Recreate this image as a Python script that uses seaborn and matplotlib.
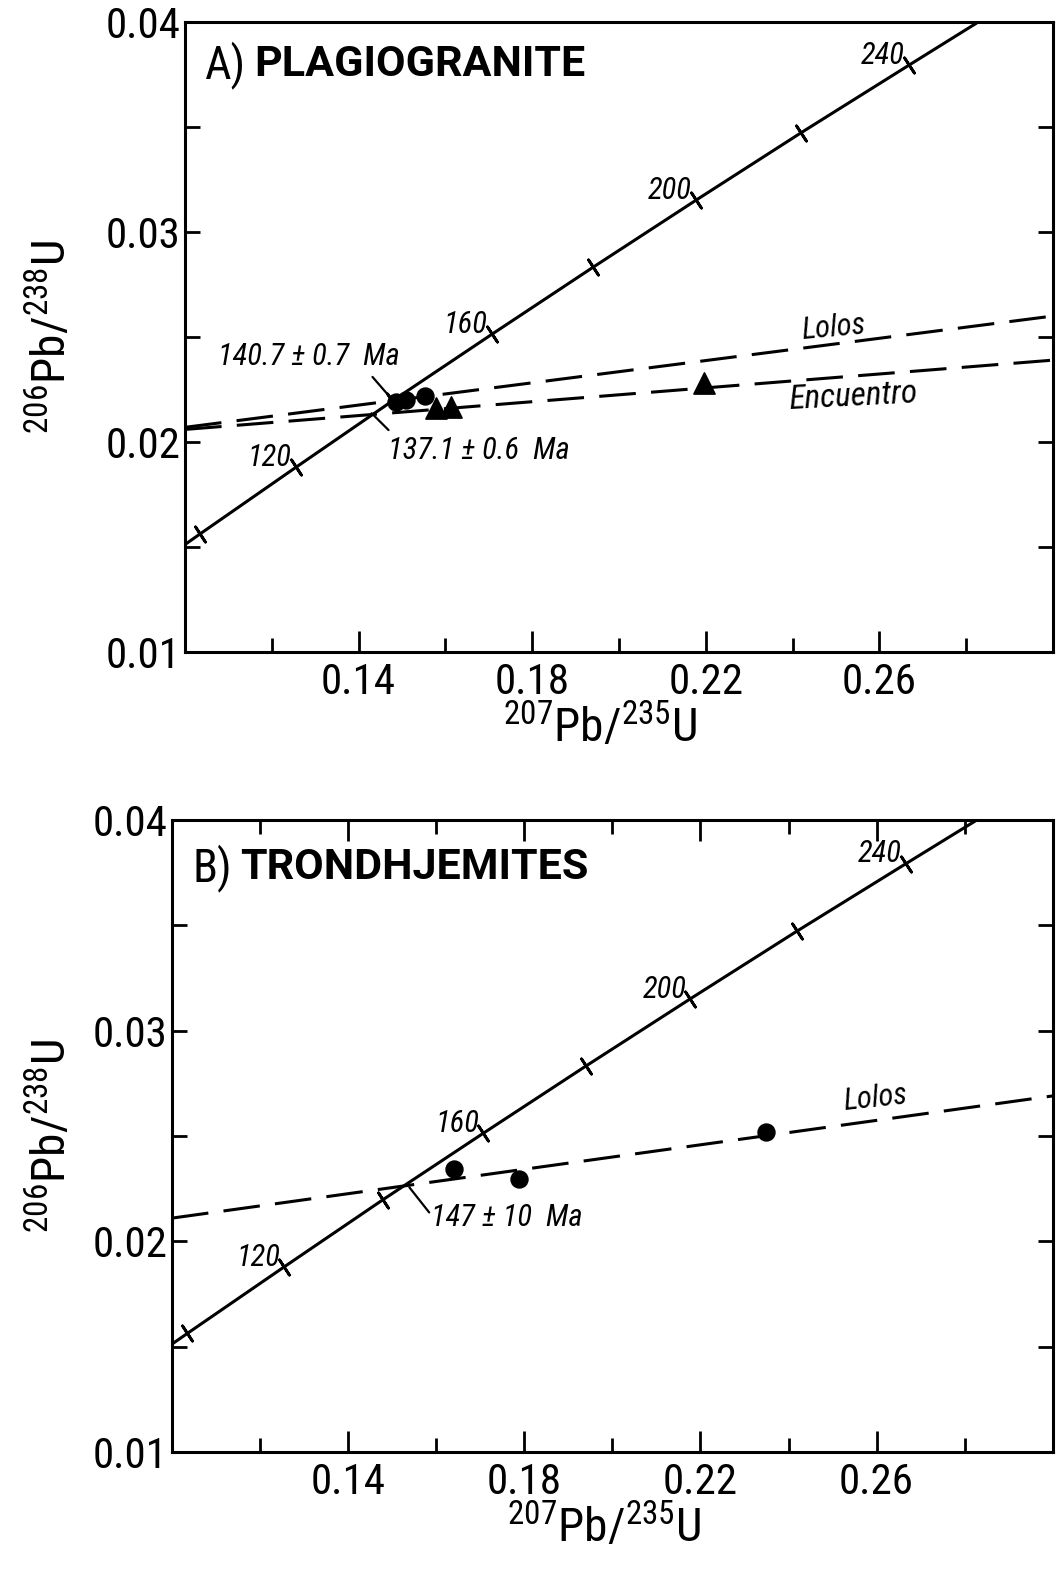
import matplotlib
matplotlib.use('Agg')
import matplotlib.pyplot as plt
import seaborn as sns

# Concordia points (age in Ma, 207Pb/235U, 206Pb/238U)
conc_age = [90, 100, 120, 140, 160, 180, 200, 220, 240, 260]
conc_x = [0.0927, 0.1035, 0.1255, 0.1478, 0.1707, 0.1940, 0.2177, 0.2419, 0.2667, 0.2918]
conc_y = [0.01406, 0.01563, 0.01879, 0.02196, 0.02513, 0.02832, 0.03151, 0.03472, 0.03793, 0.04116]
tick_ages = [100, 120, 140, 160, 180, 200, 220, 240]
label_ages = [120, 160, 200, 240]

# A) plagiogranite
lolos_a_x = [0.10, 0.30]
lolos_a_y = [0.0207, 0.0260]
enc_a_x = [0.10, 0.30]
enc_a_y = [0.0206, 0.0239]
lolos_pts_a_x = [0.1487, 0.1510, 0.1554]
lolos_pts_a_y = [0.02190, 0.02200, 0.02219]
enc_pts_a_x = [0.1579, 0.1614, 0.2195]
enc_pts_a_y = [0.02162, 0.02167, 0.02281]

# B) trondhjemites
lolos_b_x = [0.10, 0.30]
lolos_b_y = [0.0211, 0.0269]
lolos_pts_b_x = [0.1641, 0.1788, 0.2350]
lolos_pts_b_y = [0.02341, 0.02294, 0.02517]

xticks_major = [0.14, 0.18, 0.22, 0.26]
xtick_labels = ['0.14', '0.18', '0.22', '0.26']
xticks_minor = [0.12, 0.16, 0.20, 0.24, 0.28]
yticks_major = [0.01, 0.02, 0.03, 0.04]
ytick_labels = ['0.01', '0.02', '0.03', '0.04']
yticks_minor = [0.015, 0.025, 0.035]

sns.set_style('ticks', {'axes.edgecolor': 'black', 'xtick.color': 'black', 'ytick.color': 'black',
                        'text.color': 'black', 'axes.labelcolor': 'black'})
plt.rcParams['font.family'] = ['Roboto Condensed', 'DejaVu Sans']
plt.rcParams['mathtext.fontset'] = 'custom'
plt.rcParams['mathtext.rm'] = 'Roboto Condensed'
plt.rcParams['mathtext.default'] = 'rm'

LW = 2.2
DASH = (0, (12, 5))
ITAL = dict(style='italic', fontsize=22)


def draw_concordia(ax):
    sns.lineplot(x=conc_x, y=conc_y, ax=ax, color='black', linewidth=LW, sort=False, estimator=None)
    tx = [conc_x[conc_age.index(a)] for a in tick_ages]
    ty = [conc_y[conc_age.index(a)] for a in tick_ages]
    sns.scatterplot(x=tx, y=ty, ax=ax, marker=(2, 2, 33), s=170, color='black', linewidth=2, zorder=4)
    for a in label_ages:
        i = conc_age.index(a)
        ax.annotate(str(a), (conc_x[i], conc_y[i]), xytext=(-3, 7), textcoords='offset points',
                    ha='right', va='center', **ITAL)


def setup_axes(ax, top_ticks):
    ax.set_xlim(0.10, 0.30)
    ax.set_ylim(0.01, 0.04)
    ax.set_xticks(xticks_major)
    ax.set_xticklabels(xtick_labels)
    ax.set_xticks(xticks_minor, minor=True)
    ax.set_yticks(yticks_major)
    ax.set_yticklabels(ytick_labels)
    ax.set_yticks(yticks_minor, minor=True)
    ax.tick_params(which='both', direction='in', width=2, top=top_ticks, right=True, labelsize=31)
    ax.tick_params(axis='x', which='major', length=15, pad=7)
    ax.tick_params(axis='x', which='minor', length=10)
    ax.tick_params(axis='y', which='both', length=11, pad=3)
    for s in ax.spines.values():
        s.set_linewidth(2.2)
        s.set_visible(True)
    ax.set_xlabel(r'$^{207}$Pb/$^{235}$U', fontsize=34)
    ax.set_ylabel(r'$^{206}$Pb/$^{238}$U', fontsize=34)


def title(ax, letter, word, x, y):
    t = ax.text(x, y, letter, transform=ax.transAxes, fontsize=33, va='center', ha='left')
    ax.annotate(word, xy=(1, 0.5), xycoords=t, xytext=(6, 0), textcoords='offset points',
                fontsize=31, fontweight='bold', family='Roboto', va='center', ha='left')


fig = plt.figure(figsize=(10.56, 15.69), dpi=100)

# Panel A
ax1 = fig.add_axes([0.1752, 0.5844, 0.822, 0.4016])
draw_concordia(ax1)
sns.lineplot(x=lolos_a_x, y=lolos_a_y, ax=ax1, color='black', linewidth=LW, linestyle=DASH)
sns.lineplot(x=enc_a_x, y=enc_a_y, ax=ax1, color='black', linewidth=LW, linestyle=DASH)
sns.scatterplot(x=lolos_pts_a_x, y=lolos_pts_a_y, ax=ax1, marker='o', s=150, color='black',
                edgecolor='black', zorder=5)
sns.scatterplot(x=enc_pts_a_x, y=enc_pts_a_y, ax=ax1, marker='^', s=230, color='black',
                edgecolor='black', zorder=5)
ax1.plot([0.1432, 0.1476], [0.02310, 0.02205], color='black', linewidth=1.6)
ax1.plot([0.1430, 0.1469], [0.02137, 0.02057], color='black', linewidth=1.6)
ax1.text(0.1076, 0.02405, '140.7 ± 0.7  Ma', ha='left', va='center', **ITAL)
ax1.text(0.1467, 0.01962, '137.1 ± 0.6  Ma', ha='left', va='center', **ITAL)
ax1.text(0.2421, 0.02533, 'Lolos', ha='left', va='center', rotation=5, rotation_mode='anchor', **ITAL)
ax1.text(0.2391, 0.02200, 'Encuentro', ha='left', va='center', rotation=3, rotation_mode='anchor',
         style='italic', fontsize=24)
setup_axes(ax1, top_ticks=False)
ax1.xaxis.set_label_coords(0.478, -0.078)
ax1.yaxis.set_label_coords(-0.127, 0.5)
title(ax1, 'A)', 'PLAGIOGRANITE', 0.023, 0.932)

# Panel B
ax2 = fig.add_axes([0.1629, 0.0746, 0.834, 0.4028])
draw_concordia(ax2)
sns.lineplot(x=lolos_b_x, y=lolos_b_y, ax=ax2, color='black', linewidth=LW, linestyle=DASH)
sns.scatterplot(x=lolos_pts_b_x, y=lolos_pts_b_y, ax=ax2, marker='o', s=150, color='black',
                edgecolor='black', zorder=5)
ax2.plot([0.1539, 0.1584], [0.02256, 0.02137], color='black', linewidth=1.6)
ax2.text(0.1589, 0.02114, '147 ± 10  Ma', ha='left', va='center', **ITAL)
ax2.text(0.2524, 0.02664, 'Lolos', ha='left', va='center', rotation=6, rotation_mode='anchor', **ITAL)
setup_axes(ax2, top_ticks=True)
ax2.xaxis.set_label_coords(0.49, -0.078)
ax2.yaxis.set_label_coords(-0.110, 0.5)
title(ax2, 'B)', 'TRONDHJEMITES', 0.023, 0.924)

fig.savefig('out.png', dpi=100)
